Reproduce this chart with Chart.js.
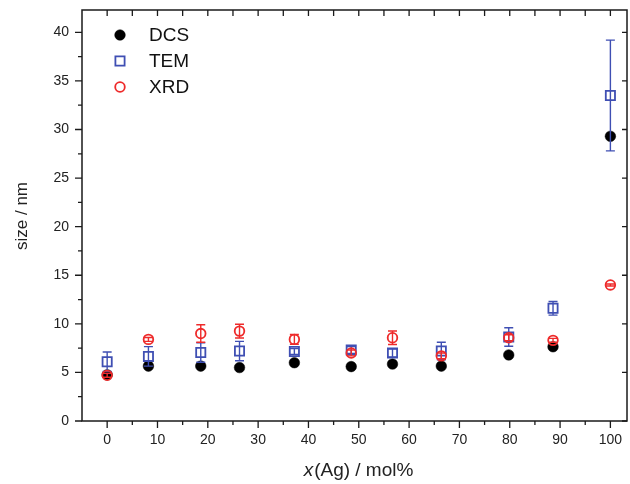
<!DOCTYPE html>
<html>
<head>
<meta charset="utf-8">
<script src="https://cdn.jsdelivr.net/npm/chart.js@4/dist/chart.umd.min.js"></script>
<style>
  html, body { margin: 0; padding: 0; background: #fff; }
</style>
</head>
<body>
<canvas id="chart" width="630" height="484"></canvas>
<script>
// composition x(Ag) in mol%
const composition = [0, 8.2, 18.6, 26.3, 37.2, 48.5, 56.7, 66.4, 79.8, 88.6, 100];

// particle sizes in nm
const dcsSize = [4.75, 5.65, 5.65, 5.5, 6.0, 5.6, 5.86, 5.65, 6.8, 7.64, 29.3];
const temSize = [6.1, 6.65, 7.05, 7.2, 7.15, 7.3, 7.0, 7.2, 8.65, 11.6, 33.5];
const temErr  = [1.0, 1.0, 1.0, 1.0, 0.3, 0.35, 0.4, 0.9, 0.95, 0.7, 5.7];
const xrdSize = [4.7, 8.4, 9.0, 9.25, 8.4, 7.0, 8.57, 6.7, 8.57, 8.3, 14.0];
const xrdErr  = [0.2, 0.2, 0.9, 0.7, 0.5, 0.3, 0.7, 0.3, 0.3, 0.2, 0.1];

const xTicks = [0, 10, 20, 30, 40, 50, 60, 70, 80, 90, 100];
const yTicks = [0, 5, 10, 15, 20, 25, 30, 35, 40];

const FONT = "'Liberation Sans', Arial, sans-serif";
const BLUE = '#3f4fb3';
const RED = '#ee2a2a';

const points = (ys) => composition.map((x, i) => ({ x: x, y: ys[i] }));

// error bars drawn right after their own dataset
const errorBars = {
  id: 'errorBars',
  afterDatasetDraw(chart, args) {
    const ds = chart.data.datasets[args.index];
    if (!ds.errors) return;
    const { ctx, scales: { x, y } } = chart;
    ctx.save();
    ctx.strokeStyle = ds.borderColor;
    ctx.lineWidth = 1.4;
    ctx.beginPath();
    ds.data.forEach((p, i) => {
      const e = ds.errors[i];
      const px = x.getPixelForValue(p.x);
      const top = y.getPixelForValue(p.y + e);
      const bot = y.getPixelForValue(p.y - e);
      ctx.moveTo(px, top); ctx.lineTo(px, bot);
      ctx.moveTo(px - 4.5, top); ctx.lineTo(px + 4.5, top);
      ctx.moveTo(px - 4.5, bot); ctx.lineTo(px + 4.5, bot);
    });
    ctx.stroke();
    ctx.restore();
  }
};

// box frame, ticks on all four sides and axis titles
const frame = {
  id: 'frame',
  afterDraw(chart) {
    const { ctx, chartArea: a, scales: { x, y } } = chart;
    ctx.save();
    ctx.strokeStyle = '#1a1a1a';
    ctx.lineWidth = 1.5;
    ctx.strokeRect(a.left, a.top, a.right - a.left, a.bottom - a.top);

    ctx.lineWidth = 1.3;
    ctx.beginPath();
    xTicks.forEach((v, i) => {
      const vals = [v];
      if (i < xTicks.length - 1) vals.push((v + xTicks[i + 1]) / 2);
      vals.forEach((t, k) => {
        const px = x.getPixelForValue(t);
        ctx.moveTo(px, a.bottom); ctx.lineTo(px, a.bottom + (k === 0 ? 7 : 4));
        ctx.moveTo(px, a.top); ctx.lineTo(px, a.top + 6);
      });
    });
    yTicks.forEach((v, i) => {
      const vals = [v];
      if (i < yTicks.length - 1) vals.push((v + yTicks[i + 1]) / 2);
      vals.forEach((t, k) => {
        const py = y.getPixelForValue(t);
        ctx.moveTo(a.left, py); ctx.lineTo(a.left - (k === 0 ? 7 : 4), py);
        if (k === 0) { ctx.moveTo(a.right, py); ctx.lineTo(a.right - 5, py); }
      });
    });
    ctx.stroke();

    // y title
    ctx.fillStyle = '#222';
    ctx.font = '17px ' + FONT;
    ctx.textAlign = 'center';
    ctx.textBaseline = 'middle';
    ctx.save();
    ctx.translate(22, 216);
    ctx.rotate(-Math.PI / 2);
    ctx.fillText('size / nm', 0, 0);
    ctx.restore();

    // x title, italic x
    const italic = 'italic 19px ' + FONT;
    const normal = '19px ' + FONT;
    const part1 = 'x', part2 = '(Ag) / mol%';
    ctx.font = italic;
    const w1 = ctx.measureText(part1).width;
    ctx.font = normal;
    const w2 = ctx.measureText(part2).width;
    const cx = 358;
    let sx = cx - (w1 + w2) / 2;
    ctx.textAlign = 'left';
    ctx.textBaseline = 'alphabetic';
    ctx.font = italic;
    ctx.fillText(part1, sx, 476);
    ctx.font = normal;
    ctx.fillText(part2, sx + w1 + 1, 476);

    ctx.restore();
  }
};

// legend inside the plot, top left
const insideLegend = {
  id: 'insideLegend',
  afterDraw(chart) {
    const { ctx, chartArea: a } = chart;
    ctx.save();
    ctx.font = '19px ' + FONT;
    ctx.textBaseline = 'middle';
    ctx.textAlign = 'left';
    chart.data.datasets.forEach((ds, i) => {
      const mx = a.left + 38;
      const my = a.top + 25 + i * 26;
      ctx.lineWidth = ds.pointBorderWidth;
      ctx.strokeStyle = ds.borderColor;
      ctx.fillStyle = ds.pointBackgroundColor;
      ctx.beginPath();
      if (ds.pointStyle === 'rect') {
        const s = ds.pointRadius * Math.SQRT1_2;
        ctx.rect(mx - s, my - s, 2 * s, 2 * s);
      } else {
        ctx.arc(mx, my, ds.pointRadius, 0, Math.PI * 2);
      }
      ctx.fill();
      ctx.stroke();
      ctx.fillStyle = '#111';
      ctx.fillText(ds.label, a.left + 67, my + 1);
    });
    ctx.restore();
  }
};

new Chart(document.getElementById('chart').getContext('2d'), {
  type: 'scatter',
  data: {
    datasets: [
      {
        label: 'DCS',
        data: points(dcsSize),
        pointStyle: 'circle',
        pointRadius: 5.3,
        pointBorderWidth: 0.5,
        borderColor: '#000',
        backgroundColor: '#000',
        pointBackgroundColor: '#000',
        order: 3
      },
      {
        label: 'TEM',
        data: points(temSize),
        errors: temErr,
        pointStyle: 'rect',
        pointRadius: 6.5,
        pointBorderWidth: 1.8,
        borderColor: BLUE,
        backgroundColor: 'rgba(255,255,255,0)',
        pointBackgroundColor: 'rgba(255,255,255,0)',
        order: 2
      },
      {
        label: 'XRD',
        data: points(xrdSize),
        errors: xrdErr,
        pointStyle: 'circle',
        pointRadius: 4.8,
        pointBorderWidth: 1.8,
        borderColor: RED,
        backgroundColor: 'rgba(255,255,255,0)',
        pointBackgroundColor: 'rgba(255,255,255,0)',
        order: 1
      }
    ]
  },
  options: {
    responsive: false,
    animation: false,
    layout: { autoPadding: false, padding: { top: 10, right: 3, left: 0, bottom: 0 } },
    plugins: {
      legend: { display: false },
      tooltip: { enabled: false }
    },
    scales: {
      x: {
        type: 'linear',
        min: -5,
        max: 103.3,
        afterBuildTicks: s => { s.ticks = xTicks.map(v => ({ value: v })); },
        afterFit: s => { s.height = 63; s.paddingLeft = 0; s.paddingRight = 0; },
        grid: { display: false, drawTicks: false },
        border: { display: false },
        ticks: {
          font: { family: FONT, size: 14 },
          color: '#222',
          padding: 11,
          maxRotation: 0,
          autoSkip: false
        }
      },
      y: {
        type: 'linear',
        min: 0,
        max: 42.3,
        afterBuildTicks: s => { s.ticks = yTicks.map(v => ({ value: v })); },
        afterFit: s => { s.width = 82; s.paddingTop = 0; s.paddingBottom = 0; },
        grid: { display: false, drawTicks: false },
        border: { display: false },
        ticks: {
          font: { family: FONT, size: 14 },
          color: '#222',
          padding: 13,
          autoSkip: false
        }
      }
    }
  },
  plugins: [errorBars, frame, insideLegend]
});
</script>
</body>
</html>
